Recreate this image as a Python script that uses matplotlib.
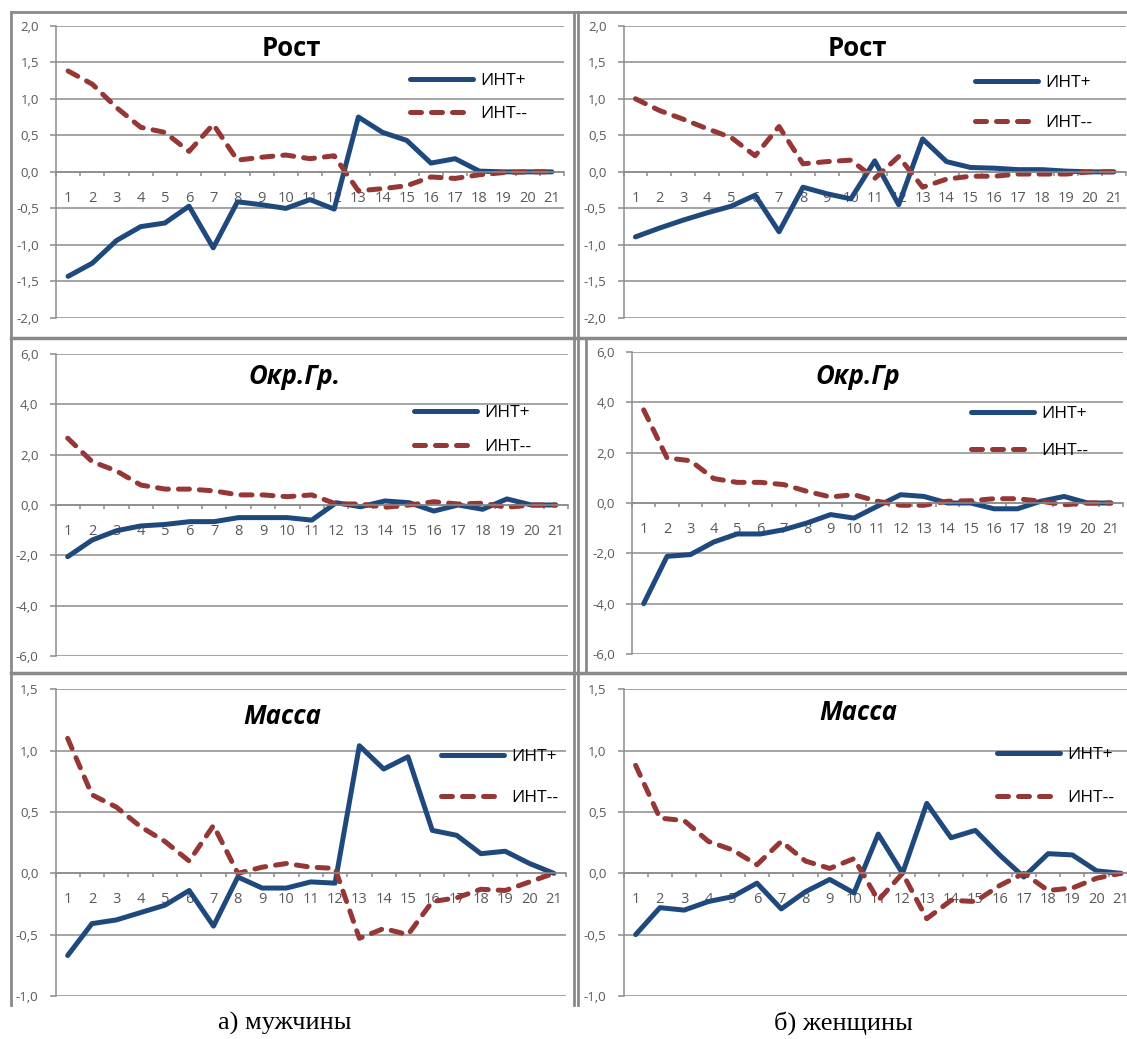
import numpy as np
import matplotlib.pyplot as plt
from matplotlib.lines import Line2D

W, H = 1127, 1039
x = np.arange(1, 22)

# ---- данные ----
rost_m_plus = [-1.43, -1.25, -0.94, -0.75, -0.70, -0.47, -1.04, -0.41, -0.45, -0.50, -0.38,
               -0.51, 0.75, 0.54, 0.43, 0.12, 0.18, 0.01, 0.0, 0.0, 0.0]
rost_m_minus = [1.38, 1.20, 0.88, 0.61, 0.54, 0.28, 0.65, 0.16, 0.20, 0.23, 0.18,
                0.22, -0.26, -0.23, -0.19, -0.07, -0.09, -0.04, -0.01, 0.0, 0.0]
rost_w_plus = [-0.89, -0.77, -0.66, -0.56, -0.47, -0.32, -0.82, -0.21, -0.30, -0.37, 0.15,
               -0.45, 0.45, 0.14, 0.06, 0.05, 0.03, 0.03, 0.01, 0.0, 0.0]
rost_w_minus = [1.00, 0.84, 0.72, 0.59, 0.47, 0.22, 0.62, 0.11, 0.14, 0.16, -0.09,
                0.21, -0.21, -0.10, -0.06, -0.06, -0.03, -0.03, -0.03, 0.0, 0.0]

okr_m_plus = [-2.05, -1.39, -1.02, -0.83, -0.77, -0.66, -0.66, -0.50, -0.50, -0.50, -0.60,
              0.09, -0.07, 0.16, 0.09, -0.24, 0.0, -0.17, 0.24, 0.0, 0.0]
okr_m_minus = [2.65, 1.72, 1.35, 0.79, 0.63, 0.63, 0.56, 0.40, 0.40, 0.33, 0.40,
               0.04, 0.04, -0.09, 0.0, 0.13, 0.04, 0.07, -0.09, 0.0, 0.0]
okr_w_plus = [-4.0, -2.12, -2.05, -1.55, -1.23, -1.23, -1.06, -0.79, -0.46, -0.60, -0.13,
              0.33, 0.26, 0.0, 0.0, -0.23, -0.23, 0.07, 0.26, 0.0, 0.0]
okr_w_minus = [3.70, 1.79, 1.68, 0.97, 0.82, 0.82, 0.73, 0.46, 0.24, 0.33, 0.07,
               -0.09, -0.09, 0.07, 0.09, 0.17, 0.17, 0.07, -0.07, 0.0, 0.0]

massa_m_plus = [-0.67, -0.41, -0.38, -0.32, -0.26, -0.14, -0.43, -0.03, -0.12, -0.12, -0.07,
                -0.08, 1.04, 0.85, 0.95, 0.35, 0.31, 0.16, 0.18, 0.08, 0.0]
massa_m_minus = [1.10, 0.64, 0.54, 0.38, 0.26, 0.10, 0.39, 0.0, 0.05, 0.08, 0.05,
                 0.04, -0.53, -0.45, -0.50, -0.23, -0.20, -0.13, -0.14, -0.07, 0.0]
massa_w_plus = [-0.50, -0.28, -0.30, -0.23, -0.19, -0.08, -0.29, -0.15, -0.05, -0.16, 0.32,
                0.0, 0.57, 0.29, 0.35, 0.15, -0.03, 0.16, 0.15, 0.02, 0.0]
massa_w_minus = [0.88, 0.45, 0.43, 0.26, 0.19, 0.07, 0.26, 0.10, 0.04, 0.12, -0.22,
                 0.0, -0.37, -0.22, -0.23, -0.10, 0.0, -0.14, -0.12, -0.04, 0.0]

labels = ["ИНТ+", "ИНТ--"]

BLUE = "#1F497D"
RED = "#953735"
GRID = "#8C8C8C"
TXT = "#595959"
FONT = ["Open Sans", "DejaVu Sans"]
plt.rcParams["font.family"] = FONT

fig = plt.figure(figsize=(W / 100, H / 100), dpi=100)


def px_axes(left, top, right, bottom):
    return fig.add_axes([left / W, 1 - bottom / H, (right - left) / W, (bottom - top) / H])


def fig_line(xs, ys, lw=2.0):
    fig.add_artist(Line2D([v / W for v in xs], [1 - v / H for v in ys],
                          transform=fig.transFigure, color="#8A8A8A", lw=lw))


# рамки диаграмм
fig_line([11, 1127], [12, 12])
fig_line([11, 11], [12, 1005])
fig_line([574, 574], [12, 1005])
fig_line([578, 578], [12, 1005])
fig_line([586, 586], [338, 673])
fig_line([11, 1127], [338, 338], lw=2.5)
fig_line([11, 1127], [673, 673], lw=2.5)

# (box px, ylim, ystep, title, italic, title xy, legend xy, legend gap, data)
panels = [
    ((56, 25.7, 564, 318), (-2, 2), 0.5, "Рост", False, (291, 49), (410, 97.5), 33,
     rost_m_plus, rost_m_minus),
    ((623.5, 25.7, 1126, 318), (-2, 2), 0.5, "Рост", False, (857, 49), (975, 103), 40,
     rost_w_plus, rost_w_minus),
    ((55.5, 353.7, 568, 656.3), (-6, 6), 2.0, "Окр.Гр.", True, (295, 377), (414, 430), 34,
     okr_m_plus, okr_m_minus),
    ((632, 352, 1122.6, 654), (-6, 6), 2.0, "Окр.Гр", True, (858, 377), (971, 432.5), 37,
     okr_w_plus, okr_w_minus),
    ((55.5, 689.3, 566, 996), (-1, 1.5), 0.5, "Масса", True, (282, 717), (441, 777.5), 41,
     massa_m_plus, massa_m_minus),
    ((623.5, 689.3, 1133, 996), (-1, 1.5), 0.5, "Масса", True, (858, 713), (997, 776.5), 43,
     massa_w_plus, massa_w_minus),
]

LEG_FS = 12.5

for box, ylim, ystep, title, italic, txy, lxy, lgap, plus, minus in panels:
    ax = px_axes(*box)
    ax.plot(x, plus, color=BLUE, lw=3.6, solid_joinstyle="round",
            solid_capstyle="round", label=labels[0])
    ax.plot(x, minus, color=RED, lw=3.6, dashes=(2.2, 2.0),
            dash_capstyle="round", dash_joinstyle="round", label=labels[1])

    ax.set_xlim(0.5, 21.5)
    ax.set_ylim(*ylim)
    yt = np.arange(ylim[0], ylim[1] + ystep / 2, ystep)
    ax.set_yticks(yt)
    ax.set_yticklabels([f"{v:.1f}".replace(".", ",") for v in yt])
    ax.set_xticks(x)
    ax.set_xticks(np.arange(0.5, 22, 1), minor=True)

    ax.yaxis.grid(True, color=GRID, lw=1.1)
    ax.set_axisbelow(True)
    for s in ("top", "right"):
        ax.spines[s].set_visible(False)
    ax.spines["bottom"].set_position(("data", 0))
    ax.spines["bottom"].set_color(GRID)
    ax.spines["left"].set_color(GRID)
    ax.spines["bottom"].set_linewidth(1.1)
    ax.spines["left"].set_linewidth(1.1)

    ax.tick_params(axis="y", length=4.3, width=1.1, color=GRID, pad=8,
                   labelsize=9.5, labelcolor=TXT)
    ax.tick_params(axis="x", which="major", length=0, pad=13.5,
                   labelsize=10.5, labelcolor=TXT)
    ax.tick_params(axis="x", which="minor", length=3, width=1.1, color=GRID)

    fig.text(txy[0] / W, 1 - txy[1] / H, title, ha="center", va="center",
             fontsize=18.5, fontweight="bold", style="italic" if italic else "normal")

    fs_px = LEG_FS * 100 / 72
    ax.legend(loc="center left", bbox_to_anchor=(lxy[0] / W, 1 - lxy[1] / H),
              bbox_transform=fig.transFigure, frameon=False, fontsize=LEG_FS,
              borderpad=0, borderaxespad=0, handlelength=63 / fs_px,
              handletextpad=7 / fs_px, labelspacing=(lgap - fs_px * 0.97) / fs_px)

fig.text(285 / W, 1 - 1023 / H, "а) мужчины", ha="center", va="center",
         fontsize=19, family=["Liberation Serif", "DejaVu Serif"])
fig.text(843 / W, 1 - 1023 / H, "б) женщины", ha="center", va="center",
         fontsize=19, family=["Liberation Serif", "DejaVu Serif"])

fig.savefig("out.png", dpi=100)
